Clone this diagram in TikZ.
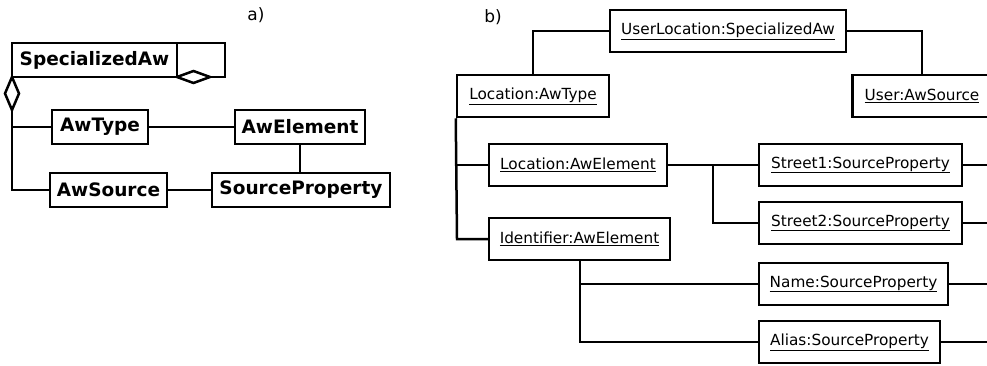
\documentclass[tikz,border=0pt]{standalone}
\usepackage{fontspec}
\setmainfont{DejaVu Sans}
\begin{document}
\begin{tikzpicture}[x=1pt,y=-1pt,
  line width=2.5pt,
  cls/.style={draw, fill=white, rectangle, inner sep=0pt, minimum height=34,
    font=\fontsize{18.5}{21}\selectfont\bfseries},
  obj/.style={draw, fill=white, rectangle, inner sep=0pt, minimum height=42,
    font=\fontsize{15.3}{18}\selectfont},
  lbl/.style={font=\fontsize{17}{20}\selectfont, inner sep=0pt},
  link/.style={draw, line width=2.5pt},
]
\clip (0,0) rectangle (987,365);
\fill[white] (0,0) rectangle (987,365);

% ---------- a) class diagram ----------
\node[lbl] (la) at (256,15) {a)};

\node[cls, minimum width=165] (sa) at (94.5,60) {SpecializedAw};
% self aggregation loop on SpecializedAw
\coordinate (loopA) at (177,43);
\coordinate (loopB) at (225,43);
\coordinate (loopC) at (225,77);
\coordinate (loopD) at (210,77);
\draw[link] (loopA) -- (loopB) -- (loopC) -- (loopD);
\draw[link, fill=white] (177,77) -- (193.5,71) -- (210,77) -- (193.5,83) -- cycle;

% aggregation diamond below SpecializedAw
\draw[link, fill=white] (12,77) -- (19,93.5) -- (12,110) -- (5,93.5) -- cycle;
\coordinate (dbot) at (12,110);
\coordinate (jt) at (12,127);
\coordinate (js) at (12,190);

\node[cls, minimum width=96] (awtype) at (100,127) {AwType};
\node[cls, minimum width=130] (awel) at (300,127) {AwElement};
\node[cls, minimum width=117] (awsrc) at (108.5,190) {AwSource};
\node[cls, minimum width=178] (sprop) at (301,190) {SourceProperty};

\draw[link] (dbot) -- (js) -- (awsrc.west);
\draw[link] (jt) -- (awtype.west);
\draw[link] (awtype.east) -- (awel.west);
\draw[link] (awel.south) -- (awel.south |- sprop.north);
\draw[link] (awsrc.east) -- (sprop.west);

% ---------- b) object diagram ----------
\node[lbl] (lb) at (493,17) {b)};

\node[obj, minimum width=236] (ul) at (728,31) {\underline{UserLocation:SpecializedAw}};
\node[obj, minimum width=152] (lt) at (533,96) {\underline{Location:AwType}};
\node[obj, minimum width=139] (ua) at (922,96) {\underline{User:AwSource}};
\node[obj, minimum width=178] (le) at (578,165) {\underline{Location:AwElement}};
\node[obj, minimum width=181] (id) at (579.5,239) {\underline{Identifier:AwElement}};
\node[obj, minimum width=203] (s1) at (860.5,165) {\underline{Street1:SourceProperty}};
\node[obj, minimum width=203] (s2) at (860.5,223) {\underline{Street2:SourceProperty}};
\node[obj, minimum width=189] (nm) at (853.5,284) {\underline{Name:SourceProperty}};
\node[obj, minimum width=181] (al) at (849.5,342) {\underline{Alias:SourceProperty}};

% links leaving the top object
\draw[link] (ul.west) -| (lt.north);
\draw[link] (ul.east) -| (ua.north);

% Location:AwType to its elements
\coordinate (ltrail) at (457,239);
\draw[link] (lt.south west) -- (ltrail) -- (id.west);
\draw[link] (le.west -| ltrail) -- (le.west);

% Location:AwElement to street properties
\coordinate (lefork) at (713,165);
\draw[link] (le.east) -- (lefork) -- (s1.west);
\draw[link] (lefork) |- (s2.west);

% Identifier:AwElement to its properties
\coordinate (idfork) at (580,284);
\draw[link] (id.south -| idfork) -- (idfork |- al.west) -- (al.west);
\draw[link] (idfork) -- (nm.west);

% links continuing past the right edge
\coordinate (s1out) at (990,165);
\coordinate (s2out) at (990,223);
\coordinate (nmout) at (990,284);
\coordinate (alout) at (990,342);
\draw[link] (s1.east) -- (s1out);
\draw[link] (s2.east) -- (s2out);
\draw[link] (nm.east) -- (nmout);
\draw[link] (al.east) -- (alout);
\end{tikzpicture}
\end{document}
